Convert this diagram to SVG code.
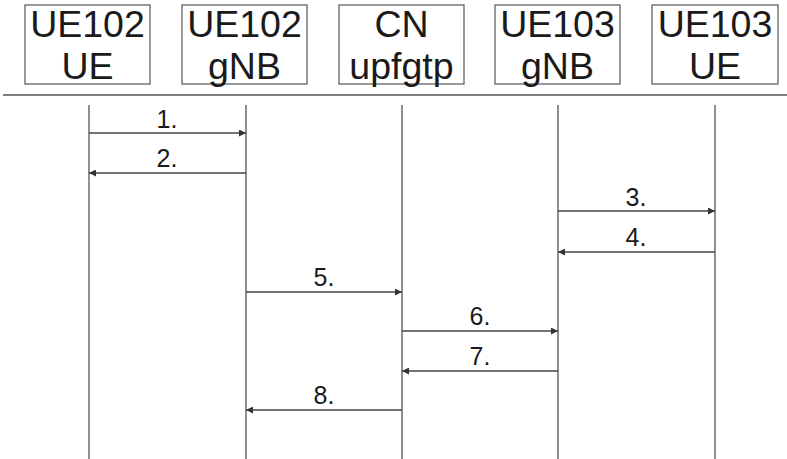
<svg xmlns="http://www.w3.org/2000/svg" width="787" height="459" viewBox="0 0 787 459">
<style>
.box{fill:#fff;stroke:#555;stroke-width:1.2}
.t{font-family:"Liberation Sans",Arial,sans-serif;font-size:37.5px;fill:#1a1a1a;text-anchor:middle}
.l{font-family:"Liberation Sans",Arial,sans-serif;font-size:25px;fill:#1a1a1a;text-anchor:middle}
.life{stroke:#555;stroke-width:1.3}
.msg{stroke:#444;stroke-width:1.3;fill:none;marker-end:url(#ah)}
</style>
<defs>
<marker id="ah" viewBox="0 0 10 10" refX="10" refY="5" markerWidth="9" markerHeight="7" markerUnits="userSpaceOnUse" orient="auto">
<path d="M0,0 L10,5 L0,10 z" fill="#333"/>
</marker>
</defs>
<rect width="787" height="459" fill="#fff"/>
<g id="node-ue102-ue"><rect class="box" x="25" y="5" width="125" height="79"/><text class="t" x="87.5" y="37">UE102</text><text class="t" x="87.5" y="79">UE</text><line class="life" x1="89" y1="105" x2="89" y2="459"/></g>
<g id="node-ue102-gnb"><rect class="box" x="182" y="5" width="125" height="79"/><text class="t" x="244.5" y="37">UE102</text><text class="t" x="244.5" y="79">gNB</text><line class="life" x1="246" y1="105" x2="246" y2="459"/></g>
<g id="node-cn"><rect class="box" x="339" y="5" width="125" height="79"/><text class="t" x="401.5" y="37">CN</text><text class="t" x="401.5" y="79">upfgtp</text><line class="life" x1="402" y1="105" x2="402" y2="459"/></g>
<g id="node-ue103-gnb"><rect class="box" x="495" y="5" width="125" height="79"/><text class="t" x="557.5" y="37">UE103</text><text class="t" x="557.5" y="79">gNB</text><line class="life" x1="558" y1="105" x2="558" y2="459"/></g>
<g id="node-ue103-ue"><rect class="box" x="652" y="5" width="126" height="79"/><text class="t" x="715" y="37">UE103</text><text class="t" x="715" y="79">UE</text><line class="life" x1="715" y1="105" x2="715" y2="459"/></g>
<line x1="3" y1="95" x2="787" y2="95" stroke="#555" stroke-width="1.3"/>
<g id="connectors">
<line class="msg" x1="89" y1="133" x2="246" y2="133"/><text class="l" x="167" y="128">1.</text>
<line class="msg" x1="246" y1="173" x2="89" y2="173"/><text class="l" x="167" y="167">2.</text>
<line class="msg" x1="558" y1="211" x2="715" y2="211"/><text class="l" x="636" y="206">3.</text>
<line class="msg" x1="715" y1="252" x2="558" y2="252"/><text class="l" x="636" y="246">4.</text>
<line class="msg" x1="246" y1="292" x2="402" y2="292"/><text class="l" x="324" y="286">5.</text>
<line class="msg" x1="402" y1="331" x2="558" y2="331"/><text class="l" x="480" y="325">6.</text>
<line class="msg" x1="558" y1="371" x2="402" y2="371"/><text class="l" x="480" y="365">7.</text>
<line class="msg" x1="402" y1="410" x2="246" y2="410"/><text class="l" x="324" y="404">8.</text>
</g>
</svg>
